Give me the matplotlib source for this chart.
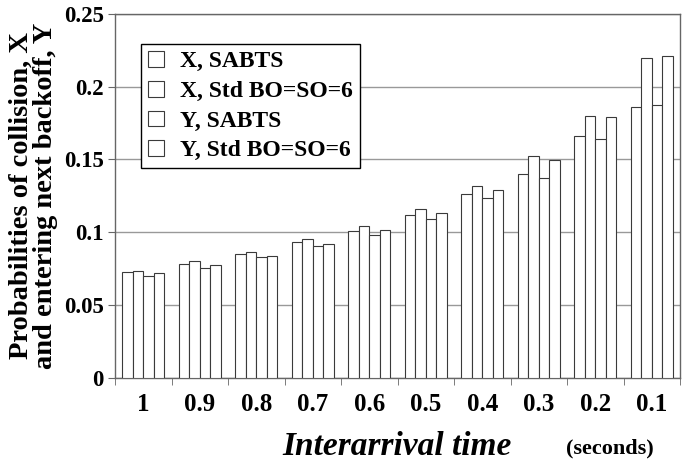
import matplotlib.pyplot as plt
import numpy as np

# Interarrival time categories (seconds)
times = ['1', '0.9', '0.8', '0.7', '0.6', '0.5', '0.4', '0.3', '0.2', '0.1']

# Series values
x_sabts = [0.0728, 0.0783, 0.0849, 0.0934, 0.1008, 0.1118, 0.1265, 0.1403, 0.1662, 0.1857]
x_std = [0.0737, 0.0801, 0.0865, 0.0953, 0.1042, 0.1162, 0.1318, 0.1524, 0.1800, 0.2199]
y_sabts = [0.0700, 0.0758, 0.0831, 0.0905, 0.0978, 0.1088, 0.1238, 0.1373, 0.1643, 0.1875]
y_std = [0.0718, 0.0774, 0.0840, 0.0921, 0.1015, 0.1134, 0.1290, 0.1494, 0.1791, 0.2213]

series = [
    ('X, SABTS', x_sabts),
    ('X, Std BO=SO=6', x_std),
    ('Y, SABTS', y_sabts),
    ('Y, Std BO=SO=6', y_std),
]

plt.rcParams['font.family'] = ['Liberation Serif', 'DejaVu Serif']

fig = plt.figure(figsize=(6.85, 4.62), dpi=100)
ax = fig.add_axes([0.168, 0.182, 0.825, 0.788])

idx = np.arange(len(times))
width = 0.186
for k, (name, vals) in enumerate(series):
    ax.bar(idx + (k - 1.5) * width, vals, width, color='white',
           edgecolor='#3a3a3a', linewidth=0.8, label=name, zorder=3)

ax.set_xlim(-0.5, len(times) - 0.5)
ax.set_ylim(0, 0.25)
ax.set_yticks([0, 0.05, 0.1, 0.15, 0.2, 0.25])
ax.set_yticklabels(['0', '0.05', '0.1', '0.15', '0.2', '0.25'],
                   fontsize=16.5, fontweight='bold')
ax.yaxis.grid(True, color='#999999', linewidth=1.0, zorder=0)
ax.set_axisbelow(True)

# labels at group centres, tick marks between groups
ax.set_xticks(idx)
ax.set_xticklabels(times, fontsize=18, fontweight='bold')
ax.tick_params(axis='x', which='major', length=0, pad=11)
ax.set_xticks(np.arange(-0.5, len(times)), minor=True)
ax.tick_params(axis='x', which='minor', length=5, color='#666666')
ax.tick_params(axis='y', length=5, color='#666666', pad=3)

for s in ax.spines.values():
    s.set_color('#666666')
    s.set_linewidth(1.0)

ax.set_ylabel('Probabilities of collision, X\nand entering next backoff, Y',
              fontsize=20.5, fontweight='bold', labelpad=4, linespacing=1.0)

fig.text(0.58, 0.0, 'Interarrival time', fontsize=24, fontweight='bold',
         style='italic', ha='center', va='bottom')
fig.text(0.89, 0.008, '(seconds)', fontsize=16, fontweight='bold',
         ha='center', va='bottom')

leg = ax.legend(loc='upper left', bbox_to_anchor=(0.046, 0.917),
                borderaxespad=0, prop={'weight': 'bold', 'size': 17},
                fancybox=False, edgecolor='black', framealpha=1,
                handlelength=0.65, handleheight=0.65, borderpad=0.3,
                labelspacing=0.36, handletextpad=0.7)
leg.get_frame().set_linewidth(1.0)

fig.savefig('out.png', dpi=100)
